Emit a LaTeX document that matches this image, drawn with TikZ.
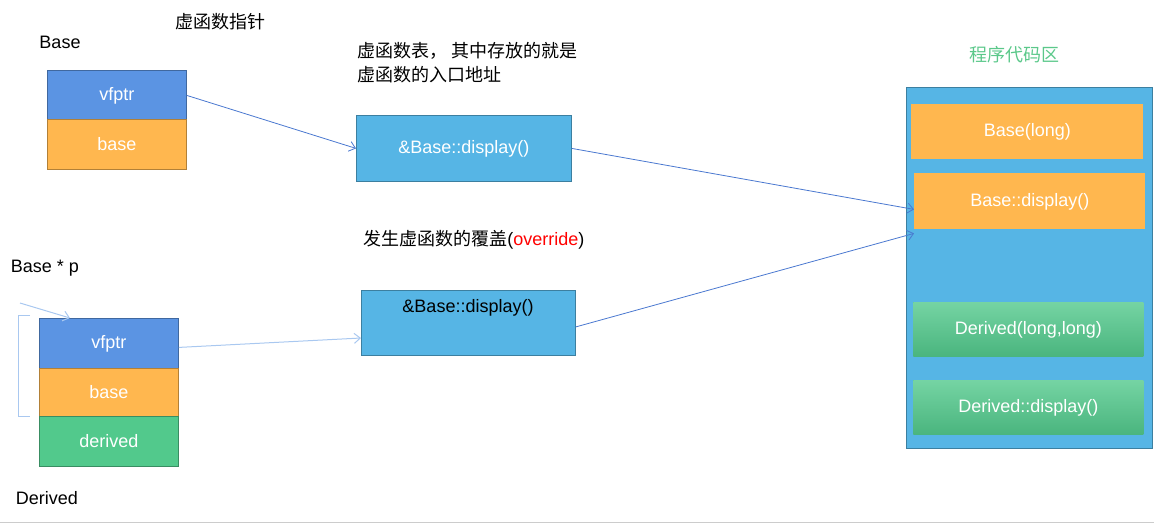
\documentclass[tikz,border=0pt]{standalone}
\usepackage{fontspec}
\setmainfont{Liberation Sans}
\newfontfamily\cjk{Noto Sans CJK SC}
\usetikzlibrary{arrows.meta}
\definecolor{vblue}{HTML}{5B94E3}
\definecolor{vorange}{HTML}{FFB74F}
\definecolor{vgreen}{HTML}{52C98C}
\definecolor{sky}{HTML}{56B5E5}
\definecolor{lblue}{HTML}{A9C8F0}
\definecolor{arr}{HTML}{4A78D0}
\definecolor{tgreen}{HTML}{5BC88A}
\tikzset{
  cell/.style={draw=#1!70!black, fill=#1, text=white, font=\fontsize{9}{10}\selectfont, anchor=north west, inner sep=0pt},
  lbl/.style={font=\fontsize{9}{10}\selectfont, inner sep=0pt},
  ar/.style={-{Straight Barb[length=3pt,width=5pt]}, draw=arr, line width=0.4pt},
  la/.style={-{Straight Barb[length=3pt,width=5pt]}, draw=lblue, line width=0.5pt},
}
\begin{document}
\begin{tikzpicture}[x=0.5pt,y=-0.5pt]
\useasboundingbox (0,0) rectangle (1154,527);
\draw[gray!40] (0,522) -- (1154,522);
\node[lbl] (tb) at (60,42) {Base};
\node[lbl] (tvp) at (220,22) {\cjk 虚函数指针};
\node[cell=vblue, minimum width=69.5pt, minimum height=25pt] (v1) at (47,70) {vfptr};
\node[cell=vorange, minimum width=69.5pt, minimum height=25pt] (b1) at (47,119) {base};
\node[lbl, anchor=north west, align=left] (tvt) at (357,42) {\cjk 虚函数表， 其中存放的就是\\[2pt]\cjk 虚函数的入口地址};
\node[cell=sky, minimum width=107.5pt, minimum height=33pt] (t1) at (356,115) {\&Base::display()};
\node[draw=sky!70!black, fill=sky, anchor=north west, minimum width=123pt, minimum height=180.5pt, inner sep=0pt] (area) at (906,87) {};
\node[lbl, text=tgreen] (tarea) at (1014,55) {\cjk 程序代码区};
\node[cell=vorange, draw=none, minimum width=116pt, minimum height=27.5pt] (c1) at (911,104) {Base(long)};
\node[cell=vorange, draw=none, minimum width=115.5pt, minimum height=28pt] (c2) at (914,173) {Base::display()};
\node[cell=vgreen, draw=none, minimum width=115pt, minimum height=27pt, top color=vgreen!80!white, bottom color=vgreen!90!black] (c3) at (913,302) {Derived(long,long)};
\node[cell=vgreen, draw=none, minimum width=115pt, minimum height=27pt, top color=vgreen!80!white, bottom color=vgreen!90!black] (c4) at (913,380) {Derived::display()};
\node[lbl, anchor=west] (tov) at (363,240) {\cjk 发生虚函数的覆盖\rmfamily(\textcolor{red}{override})};
\node[lbl] (tp) at (45,268) {Base * p};
\node[cell=vblue, minimum width=69.5pt, minimum height=25pt] (v2) at (39,318) {vfptr};
\node[cell=vorange, minimum width=69.5pt, minimum height=24pt] (b2) at (39,368) {base};
\node[cell=vgreen, minimum width=69.5pt, minimum height=25pt] (d2) at (39,416) {derived};
\node[draw=sky!70!black, fill=sky, anchor=north west, minimum width=107pt, minimum height=32.5pt, inner sep=0pt] (t2) at (361,290) {};
\node[lbl, text=black] (t2l) at (468,308) {\&Base::display()};
\node[lbl] (td) at (47,498) {Derived};
\coordinate (bt) at (30,315); \coordinate (bb) at (30,416);
\draw[lblue, line width=0.5pt] (bt) -- ++(-12,0) -- (18,416) -- (bb);
\coordinate (ps) at (20,303);
\draw[ar] (v1.east) -- (t1.west);
\draw[ar] (t1.east) -- ([yshift=-4]c2.west);
\draw[ar] ([yshift=-2]t2.east) -- ([yshift=-16]c2.west);
\draw[la] (ps) -- (v2.north west -| 70,318);
\draw[la] ([yshift=-2]v2.east) -- ([yshift=-24]t2.north west);
\end{tikzpicture}
\end{document}
